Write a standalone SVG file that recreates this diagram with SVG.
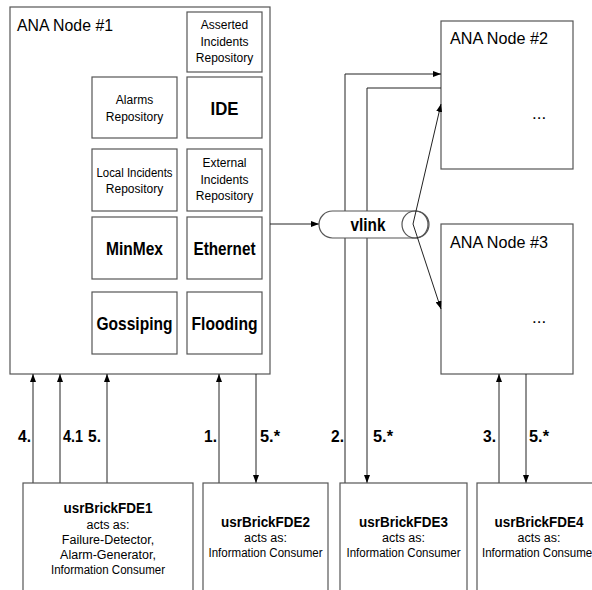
<svg xmlns="http://www.w3.org/2000/svg" width="592" height="590" viewBox="0 0 592 590">
<defs>
<marker id="ah" viewBox="0 0 8 6" refX="8" refY="3" markerWidth="8" markerHeight="6" markerUnits="userSpaceOnUse" orient="auto">
<path d="M0,0 L8,3 L0,6 z" fill="#000"/>
</marker>
<style>
.box{fill:#fff;stroke:#555;stroke-width:1.2}
.t{font-family:"Liberation Sans",Arial,sans-serif;fill:#000}
.big{font-size:17px}
.sm{font-size:12px;text-anchor:middle}
.bl{font-size:18px;font-weight:bold;text-anchor:middle}
.lab{font-size:17px;font-weight:bold}
.fh{font-size:14.5px;font-weight:bold;text-anchor:middle}
.fr{font-size:12.5px;text-anchor:middle}
.c{fill:none;stroke:#222;stroke-width:1}
.ca{fill:none;stroke:#222;stroke-width:1;marker-end:url(#ah)}
</style>
</defs>
<rect width="592" height="590" fill="#fff"/>

<g id="node1">
<rect class="box" x="10" y="7" width="260" height="367"/>
<text class="t big" x="17" y="31" textLength="96" lengthAdjust="spacingAndGlyphs">ANA Node #1</text>
<rect class="box" x="187" y="12" width="75" height="60"/>
<text class="t sm" x="224.5" y="29">Asserted</text>
<text class="t sm" x="224.5" y="46">Incidents</text>
<text class="t sm" x="224.5" y="62">Repository</text>
<rect class="box" x="92" y="77" width="85" height="61"/>
<text class="t sm" x="134.5" y="104">Alarms</text>
<text class="t sm" x="134.5" y="121">Repository</text>
<rect class="box" x="187" y="77" width="75" height="61"/>
<text class="t bl" x="224.5" y="115" textLength="28" lengthAdjust="spacingAndGlyphs">IDE</text>
<rect class="box" x="92" y="149" width="85" height="62"/>
<text class="t sm" x="134.5" y="177" textLength="76" lengthAdjust="spacingAndGlyphs">Local Incidents</text>
<text class="t sm" x="134.5" y="193">Repository</text>
<rect class="box" x="187" y="149" width="75" height="62"/>
<text class="t sm" x="224.5" y="167">External</text>
<text class="t sm" x="224.5" y="184">Incidents</text>
<text class="t sm" x="224.5" y="200">Repository</text>
<rect class="box" x="92" y="217" width="85" height="62"/>
<text class="t bl" x="134.5" y="255" textLength="57" lengthAdjust="spacingAndGlyphs">MinMex</text>
<rect class="box" x="187" y="217" width="75" height="62"/>
<text class="t bl" x="224.5" y="255" textLength="62" lengthAdjust="spacingAndGlyphs">Ethernet</text>
<rect class="box" x="92" y="292" width="85" height="62"/>
<text class="t bl" x="134.5" y="330" textLength="76" lengthAdjust="spacingAndGlyphs">Gossiping</text>
<rect class="box" x="187" y="292" width="75" height="62"/>
<text class="t bl" x="224.5" y="330" textLength="66" lengthAdjust="spacingAndGlyphs">Flooding</text>
</g>

<g id="node2">
<rect class="box" x="441" y="21" width="132" height="148"/>
<text class="t big" x="450" y="44" textLength="98" lengthAdjust="spacingAndGlyphs">ANA Node #2</text>
<text class="t big" x="532" y="119">...</text>
</g>

<g id="node3">
<rect class="box" x="441" y="224" width="132" height="150"/>
<text class="t big" x="450" y="248" textLength="98" lengthAdjust="spacingAndGlyphs">ANA Node #3</text>
<text class="t big" x="532" y="323">...</text>
</g>

<g id="connectors">
<line class="ca" x1="270" y1="224" x2="319" y2="224"/>
<polyline class="ca" points="345,483 345,74 441,74"/>
<polyline class="ca" points="441,88 367,88 367,483"/>
<line class="ca" x1="33" y1="483" x2="33" y2="374"/>
<line class="ca" x1="60" y1="483" x2="60" y2="374"/>
<line class="ca" x1="107" y1="483" x2="107" y2="374"/>
<line class="ca" x1="219" y1="483" x2="219" y2="374"/>
<line class="ca" x1="256" y1="374" x2="256" y2="483"/>
<line class="ca" x1="499" y1="483" x2="499" y2="374"/>
<line class="ca" x1="526" y1="374" x2="526" y2="483"/>
<text class="t lab" x="18" y="442" textLength="13" lengthAdjust="spacingAndGlyphs">4.</text>
<text class="t lab" x="63" y="442" textLength="20" lengthAdjust="spacingAndGlyphs">4.1</text>
<text class="t lab" x="88" y="442" textLength="13" lengthAdjust="spacingAndGlyphs">5.</text>
<text class="t lab" x="204" y="442" textLength="13" lengthAdjust="spacingAndGlyphs">1.</text>
<text class="t lab" x="260" y="442" textLength="20" lengthAdjust="spacingAndGlyphs">5.*</text>
<text class="t lab" x="331" y="442" textLength="13" lengthAdjust="spacingAndGlyphs">2.</text>
<text class="t lab" x="373" y="442" textLength="20" lengthAdjust="spacingAndGlyphs">5.*</text>
<text class="t lab" x="483" y="442" textLength="13" lengthAdjust="spacingAndGlyphs">3.</text>
<text class="t lab" x="529" y="442" textLength="20" lengthAdjust="spacingAndGlyphs">5.*</text>
</g>

<g id="vlink">
<rect x="319" y="211" width="110" height="27" rx="13.5" fill="#fff" stroke="#555" stroke-width="1.2"/>
<ellipse cx="415" cy="224.5" rx="13" ry="13.5" fill="none" stroke="#555" stroke-width="1.2"/>
<text class="t bl" x="368" y="231" textLength="35" lengthAdjust="spacingAndGlyphs">vlink</text>
</g>

<g id="connectors-vlink">
<line class="ca" x1="413" y1="224" x2="441" y2="104"/>
<line class="ca" x1="413" y1="224" x2="441" y2="309"/>
</g>

<g id="fde1">
<rect class="box" x="23" y="483" width="170" height="120"/>
<text class="t fh" x="108" y="513" textLength="89" lengthAdjust="spacingAndGlyphs">usrBrickFDE1</text>
<text class="t fr" x="108" y="529">acts as:</text>
<text class="t fr" x="108" y="544">Failure-Detector,</text>
<text class="t fr" x="108" y="559">Alarm-Generator,</text>
<text class="t fr" x="108" y="574" textLength="114" lengthAdjust="spacingAndGlyphs">Information Consumer</text>
</g>
<g id="fde2">
<rect class="box" x="203" y="483" width="125" height="120"/>
<text class="t fh" x="265.5" y="527" textLength="89" lengthAdjust="spacingAndGlyphs">usrBrickFDE2</text>
<text class="t fr" x="265.5" y="542">acts as:</text>
<text class="t fr" x="265.5" y="557" textLength="114" lengthAdjust="spacingAndGlyphs">Information Consumer</text>
</g>
<g id="fde3">
<rect class="box" x="340" y="483" width="127" height="120"/>
<text class="t fh" x="403.5" y="527" textLength="89" lengthAdjust="spacingAndGlyphs">usrBrickFDE3</text>
<text class="t fr" x="403.5" y="542">acts as:</text>
<text class="t fr" x="403.5" y="557" textLength="114" lengthAdjust="spacingAndGlyphs">Information Consumer</text>
</g>
<g id="fde4">
<rect class="box" x="477" y="483" width="128" height="120"/>
<text class="t fh" x="539" y="527" textLength="89" lengthAdjust="spacingAndGlyphs">usrBrickFDE4</text>
<text class="t fr" x="539" y="542">acts as:</text>
<text class="t fr" x="539" y="557" textLength="114" lengthAdjust="spacingAndGlyphs">Information Consumer</text>
</g>
</svg>
